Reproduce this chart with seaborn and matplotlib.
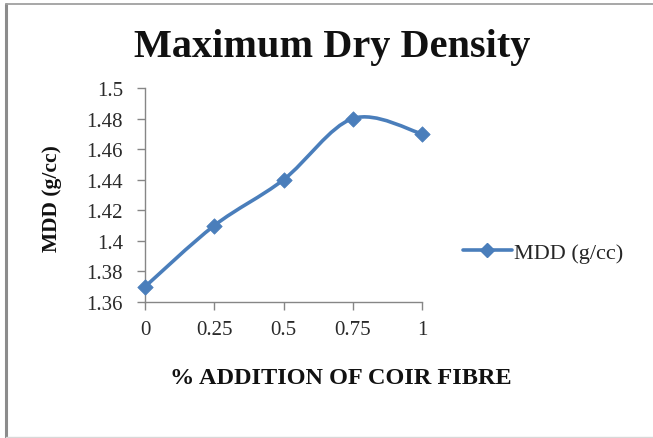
import matplotlib
matplotlib.use("Agg")
import matplotlib.pyplot as plt
from matplotlib.path import Path
from matplotlib.patches import PathPatch
from matplotlib.lines import Line2D
import numpy as np
import pandas as pd
import seaborn as sns

# Coir fibre content (%) and the measured maximum dry density (g/cc)
fibre_pct = [0, 0.25, 0.5, 0.75, 1]
mdd = [1.37, 1.41, 1.44, 1.48, 1.47]
x_tick_labels = ["0", "0.25", "0.5", "0.75", "1"]
y_ticks = [1.36, 1.38, 1.40, 1.42, 1.44, 1.46, 1.48, 1.50]
y_tick_labels = ["1.36", "1.38", "1.4", "1.42", "1.44", "1.46", "1.48", "1.5"]
series_name = "MDD (g/cc)"

BLUE = "#4A7EBB"
AXIS_GRAY = "#868686"

sns.set_theme(style="white")
plt.rcParams["font.family"] = ["Liberation Serif", "DejaVu Serif"]

df = pd.DataFrame({"fibre": fibre_pct, "mdd": mdd})

fig = plt.figure(figsize=(6.53, 4.39), dpi=100)
ax = fig.add_axes([0.2221, 0.3098, 0.4242, 0.4875])

# Smoothed connecting curve: cubic Bezier segments with Catmull-Rom style
# control points built from the data points themselves.
pts = np.column_stack([df["fibre"].to_numpy(), df["mdd"].to_numpy()])
n = len(pts)
verts = [tuple(pts[0])]
codes = [Path.MOVETO]
for i in range(n - 1):
    p_prev = pts[i - 1] if i > 0 else pts[i]
    p0, p1 = pts[i], pts[i + 1]
    p_next = pts[i + 2] if i + 2 < n else pts[i + 1]
    c1 = p0 + (p1 - p_prev) / 6.0
    c2 = p1 - (p_next - p0) / 6.0
    verts += [tuple(c1), tuple(c2), tuple(p1)]
    codes += [Path.CURVE4] * 3
curve = PathPatch(Path(verts, codes), facecolor="none", edgecolor=BLUE,
                  linewidth=2.6, capstyle="round", joinstyle="round",
                  clip_on=False, zorder=3)
ax.add_patch(curve)

# Diamond markers at each measured point
sns.scatterplot(data=df, x="fibre", y="mdd", marker="D", s=62, color=BLUE,
                edgecolor=BLUE, linewidth=0.5, ax=ax, zorder=4, clip_on=False,
                legend=False)

ax.set_xlim(0, 1)
ax.set_ylim(1.36, 1.50)
ax.set_xticks(fibre_pct)
ax.set_xticklabels(x_tick_labels)
ax.set_yticks(y_ticks)
ax.set_yticklabels(y_tick_labels)

for side in ("top", "right"):
    ax.spines[side].set_visible(False)
for side in ("left", "bottom"):
    ax.spines[side].set_color(AXIS_GRAY)
    ax.spines[side].set_linewidth(1.0)

ax.tick_params(axis="y", which="major", direction="out", length=6, width=1,
               color=AXIS_GRAY, pad=10, labelsize=15, labelcolor="#2a2a2a", left=True)
ax.tick_params(axis="x", which="major", direction="out", length=6, width=1,
               color=AXIS_GRAY, pad=7, labelsize=15, labelcolor="#2a2a2a", bottom=True)

ax.set_xlabel("% ADDITION OF COIR FIBRE", fontsize=17.5, fontweight="bold",
              color="#111111")
ax.xaxis.set_label_coords(0.705, -0.306)
ax.set_ylabel("MDD (g/cc)", fontsize=15.5, fontweight="bold", color="#111111")
ax.yaxis.set_label_coords(-0.298, 0.49)

fig.text(0.508, 0.891, "Maximum Dry Density", ha="center", va="center",
         fontsize=29, fontweight="bold", color="#111111")

handle = Line2D([], [], color=BLUE, linewidth=2.6, marker="D", markersize=7.5,
                markerfacecolor=BLUE, markeredgecolor=BLUE)
leg = fig.legend([handle], [series_name], loc="center left",
                 bbox_to_anchor=(0.709, 0.423), frameon=False, fontsize=16,
                 handlelength=2.2, handletextpad=0.1, borderaxespad=0,
                 borderpad=0)

# Outer chart border (left, top and a faint bottom edge)
fig.add_artist(Line2D([0.0092, 0.0092], [0.0, 0.988], transform=fig.transFigure,
                      color="#8c8c8c", linewidth=2.2))
fig.add_artist(Line2D([0.0085, 1.0], [0.988, 0.988], transform=fig.transFigure,
                      color="#a0a0a0", linewidth=1.3))
fig.add_artist(Line2D([0.0085, 1.0], [0.003, 0.003], transform=fig.transFigure,
                      color="#d8d8d8", linewidth=1.0))

fig.savefig("out.png", dpi=100)
